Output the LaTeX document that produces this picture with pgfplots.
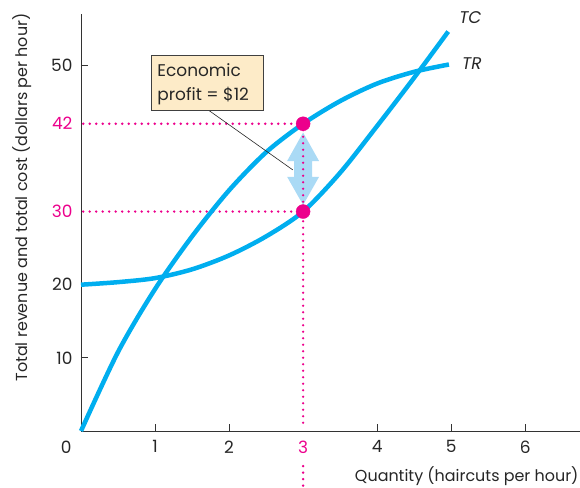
\documentclass[border=0pt]{standalone}
\usepackage{fontspec}
\setmainfont{Poppins}
\usepackage{pgfplots}
\pgfplotsset{compat=1.18}
\definecolor{curvecyan}{RGB}{0,174,239}
\definecolor{hotpink}{RGB}{236,0,140}
\definecolor{arrowblue}{RGB}{170,218,245}
\definecolor{boxtan}{RGB}{253,235,200}

\begin{document}
\begin{tikzpicture}
\begin{axis}[
  scale only axis,
  width=499bp, height=417bp,
  xmin=0, xmax=6.74, ymin=0, ymax=57,
  axis x line=bottom, axis y line=left,
  axis line style={-, line width=0.9bp, black!80},
  xtick={1,2,4,5,6}, ytick={10,20,50},
  extra x ticks={3}, extra y ticks={30,42},
  extra x tick style={major tick length=0pt, xticklabel style={text=hotpink}},
  extra y tick style={major tick length=0pt, yticklabel style={text=hotpink}},
  tick align=inside, major tick length=7bp,
  tick style={line width=0.9bp, black!80},
  /pgf/number format/assume math mode=true,
  ticklabel style={font=\fontsize{17}{20}\selectfont, text=black!85},
  yticklabel style={xshift=-5bp},
  xticklabel style={yshift=-6bp},
  xlabel={Quantity (haircuts per hour)},
  ylabel={Total revenue and total cost (dollars per hour)},
  label style={font=\fontsize{16}{19}\selectfont, text=black!85},
  xlabel style={at={(axis description cs:1.004,-0.108)}, anchor=east},
  ylabel style={at={(axis description cs:-0.118,0.56)}, anchor=center},
  clip=false,
]
% dotted guide lines
\draw[hotpink, line width=2.6bp, line cap=round, dash pattern=on 0pt off 6.5bp]
  (axis cs:0.03,42) -- (axis cs:3,42);
\draw[hotpink, line width=2.6bp, line cap=round, dash pattern=on 0pt off 6.5bp]
  (axis cs:0.03,30) -- (axis cs:3,30);
\draw[hotpink, line width=2.6bp, line cap=round, dash pattern=on 0pt off 6.5bp]
  (axis cs:3,-4.8) -- (axis cs:3,-7.6);

% total revenue
\addplot[curvecyan, line width=4.5bp, smooth] coordinates {
  (0,0) (0.5,10.8) (1,19.4) (1.5,26.6) (2,32.9) (2.5,38.1) (3,42)
  (3.5,45.1) (4,47.5) (4.5,49.1) (4.97,50.1)
};
% total cost
\addplot[curvecyan, line width=4.5bp, smooth] coordinates {
  (0,20) (0.5,20.35) (1,20.9) (1.5,22.1) (2,24.0) (2.5,26.6) (3,30)
  (3.5,35.3) (4,41.7) (4.5,48.3) (4.96,54.6)
};

% profit arrow
\fill[arrowblue] (axis cs:3,40.8) -- (axis cs:3.216,36.9) -- (axis cs:3.122,36.9)
  -- (axis cs:3.122,34.75) -- (axis cs:3.216,34.75) -- (axis cs:3,30.9)
  -- (axis cs:2.784,34.75) -- (axis cs:2.878,34.75) -- (axis cs:2.878,36.9)
  -- (axis cs:2.784,36.9) -- cycle;
\draw[hotpink, line width=2.6bp, line cap=round, dash pattern=on 0pt off 6.5bp]
  (axis cs:3,42) -- (axis cs:3,0.3);

\draw[black!85, line width=0.6bp] (axis cs:1.73,43.8) -- (axis cs:2.86,35.7);

\addplot[only marks, mark=*, mark size=7bp, hotpink] coordinates {(3,42) (3,30)};

\draw[black!75, line width=0.8bp, fill=boxtan] (axis cs:0.955,43.8) rectangle (axis cs:2.46,51.4);
\node[anchor=north west, align=left, inner sep=0pt, text=black!85,
  font=\fontsize{17}{24}\selectfont] at (axis cs:1.03,50.3) {Economic\\profit = \$12};

\node[font=\fontsize{17}{20}\selectfont\itshape, text=black!85] at (axis cs:5.26,56.5) {TC};
\node[font=\fontsize{17}{20}\selectfont\itshape, text=black!85] at (axis cs:5.28,50.2) {TR};
\node[font=\fontsize{17}{20}\selectfont, text=black!85] at (axis cs:-0.2,-2.26) {0};

\coordinate (bbsw) at (axis description cs:-0.1623,-0.1343);
\coordinate (bbne) at (axis description cs:1,1.0336);
\end{axis}
\pgfresetboundingbox
\path (bbsw) rectangle (bbne);
\end{tikzpicture}
\end{document}
